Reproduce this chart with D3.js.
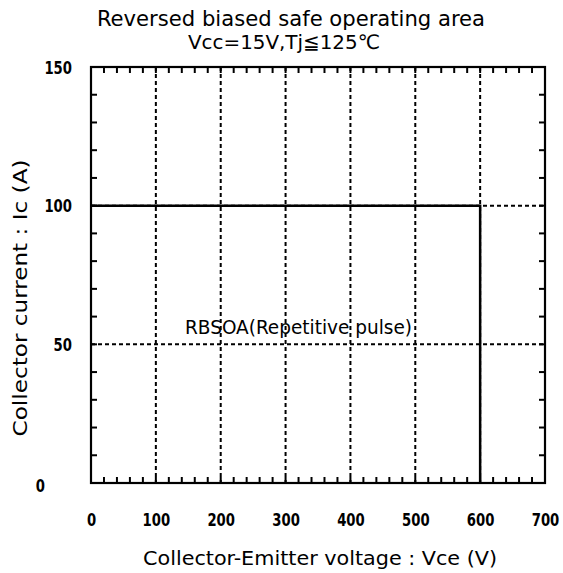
<!DOCTYPE html>
<html><head><meta charset="utf-8">
<script src="https://cdn.jsdelivr.net/npm/d3@7"></script>
<style>body{margin:0;background:#fff}svg{display:block}</style>
</head><body>
<script>
const titleLines = ["Reversed biased safe operating area", "Vcc=15V,Tj\u2266125\u2103"];
const xLabel = "Collector-Emitter voltage : Vce (V)";
const yLabel = "Collector current : Ic (A)";
const xTicks = [0,100,200,300,400,500,600,700];
const yTicks = [0,50,100,150];
const xGrid = [100,200,300,400,500,600];
const yGrid = [50,100];
const soaV = [0,600,600];
const soaI = [100,100,0];
const annotation = "RBSOA(Repetitive pulse)";
const annoPos = [300, 57];

const W=563,H=573;
const m={l:91,r:545,t:67,b:483};
const FONT='"DejaVu Sans Condensed","Liberation Sans Narrow","DejaVu Sans",sans-serif';
const svg=d3.select("body").append("svg").attr("width",W).attr("height",H);
const x=d3.scaleLinear().domain([0,700]).range([m.l,m.r]);
const y=d3.scaleLinear().domain([0,150]).range([m.b,m.t]);

// grid
svg.append("g").selectAll("line").data(xGrid).join("line")
 .attr("x1",d=>x(d)).attr("x2",d=>x(d)).attr("y1",m.t).attr("y2",m.b)
 .attr("stroke","#000").attr("stroke-width",2).attr("stroke-dasharray","4,3");
svg.append("g").selectAll("line").data(yGrid).join("line")
 .attr("y1",d=>y(d)).attr("y2",d=>y(d)).attr("x1",m.l).attr("x2",m.r)
 .attr("stroke","#000").attr("stroke-width",2).attr("stroke-dasharray","4,3");

// minor ticks
const xMinor=d3.range(0,701,20), yMinor=d3.range(0,151,10);
const tk=svg.append("g").attr("stroke","#000").attr("stroke-width",2);
xMinor.forEach(v=>{
  tk.append("line").attr("x1",x(v)).attr("x2",x(v)).attr("y1",m.b).attr("y2",m.b-6);
  tk.append("line").attr("x1",x(v)).attr("x2",x(v)).attr("y1",m.t).attr("y2",m.t+6);
});
yMinor.forEach(v=>{
  tk.append("line").attr("y1",y(v)).attr("y2",y(v)).attr("x1",m.l).attr("x2",m.l+6);
  tk.append("line").attr("y1",y(v)).attr("y2",y(v)).attr("x1",m.r).attr("x2",m.r-6);
});

// SOA line
const line=d3.line().x(d=>x(d[0])).y(d=>y(d[1]));
svg.append("path").datum(soaV.map((v,i)=>[v,soaI[i]])).attr("d",line)
 .attr("fill","none").attr("stroke","#000").attr("stroke-width",2.5);

// frame
svg.append("rect").attr("x",m.l).attr("y",m.t).attr("width",m.r-m.l).attr("height",m.b-m.t)
 .attr("fill","none").attr("stroke","#000").attr("stroke-width",2.2);

// axes labels via d3 axes
const xa=svg.append("g").attr("transform",`translate(0,${m.b})`)
 .call(d3.axisBottom(x).tickValues(xTicks).tickSize(0).tickPadding(0));
xa.select(".domain").remove();
xa.selectAll("text").attr("dy",null).attr("y",43).attr("font-family",FONT)
 .attr("font-size",17).attr("font-weight","bold").attr("fill","#000")
 .attr("textLength",d=>String(d).length*9.2).attr("lengthAdjust","spacingAndGlyphs");
const ya=svg.append("g").attr("transform",`translate(${m.l},0)`)
 .call(d3.axisLeft(y).tickValues(yTicks).tickSize(0).tickPadding(0));
ya.select(".domain").remove();
ya.selectAll("text").attr("dy",null).attr("x",-19).attr("y",6).attr("font-family",FONT)
 .attr("font-size",17).attr("font-weight","bold").attr("fill","#000")
 .attr("textLength",d=>String(d).length*9.2).attr("lengthAdjust","spacingAndGlyphs");
ya.selectAll(".tick").filter(d=>d===0).select("text").attr("x",-46).attr("y",8);

// titles
svg.append("text").attr("x",291).attr("y",26).attr("text-anchor","middle")
 .attr("font-family",FONT).attr("font-size",21).attr("textLength",388).attr("lengthAdjust","spacingAndGlyphs")
 .text(titleLines[0]);
svg.append("text").attr("x",284).attr("y",49).attr("text-anchor","middle")
 .attr("font-family",FONT).attr("font-size",20).attr("textLength",192).attr("lengthAdjust","spacingAndGlyphs")
 .text(titleLines[1]);

svg.append("text").attr("x",(143+497)/2).attr("y",565).attr("text-anchor","middle")
 .attr("font-family",FONT).attr("font-size",19).attr("textLength",354).attr("lengthAdjust","spacingAndGlyphs")
 .text(xLabel);
svg.append("text").attr("transform","translate(27,298) rotate(-90)").attr("text-anchor","middle")
 .attr("font-family",FONT).attr("font-size",19).attr("textLength",277).attr("lengthAdjust","spacingAndGlyphs")
 .text(yLabel);

svg.append("text").attr("x",(185+412)/2).attr("y",y(annoPos[1])+9).attr("text-anchor","middle")
 .attr("font-family",FONT).attr("font-size",19).attr("textLength",227).attr("lengthAdjust","spacingAndGlyphs")
 .text(annotation);
</script>
</body></html>
